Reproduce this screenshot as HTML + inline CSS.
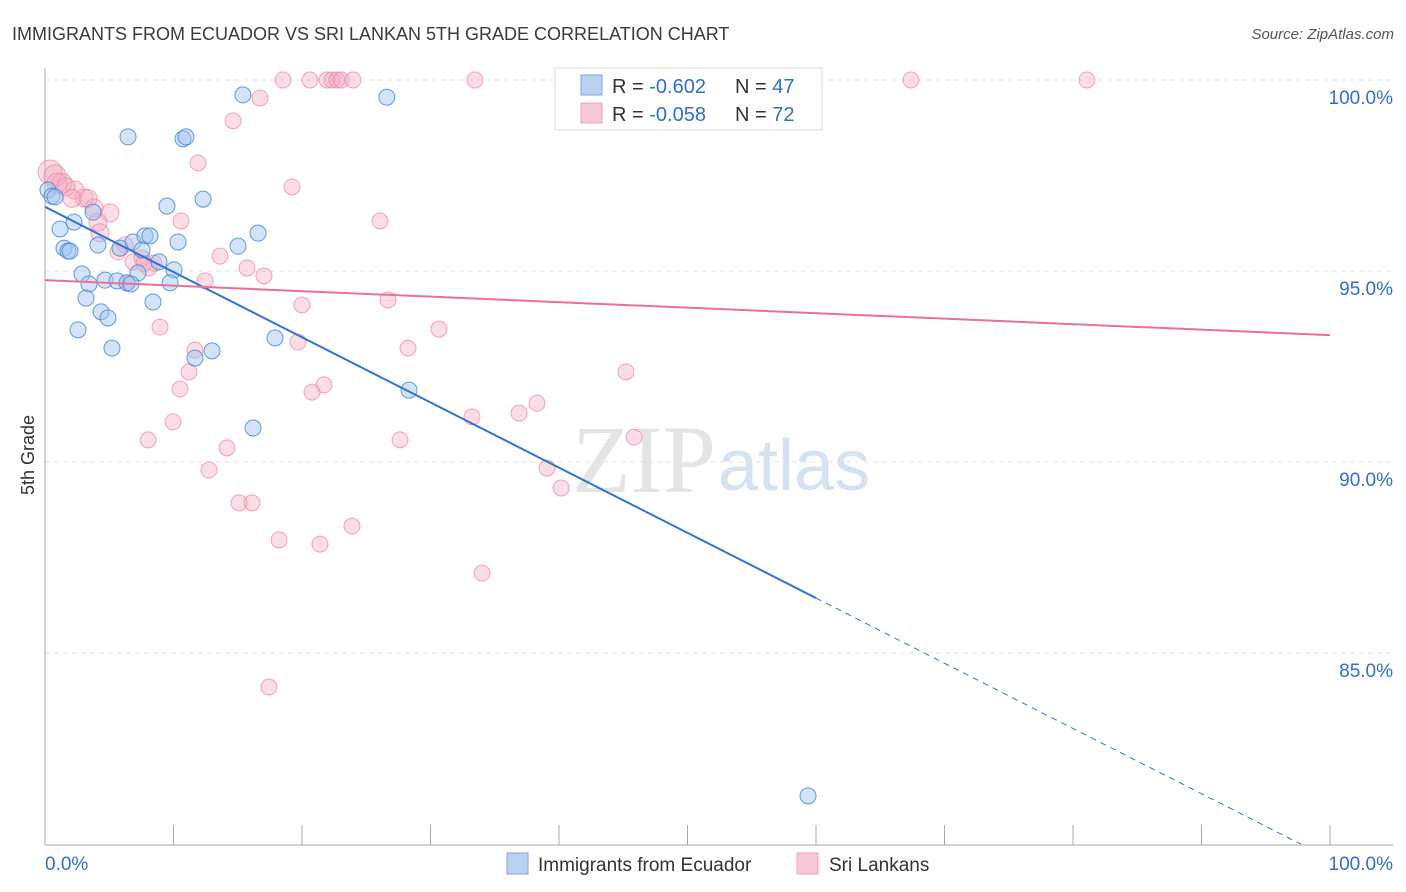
<!DOCTYPE html>
<html><head><meta charset="utf-8"><style>
body{margin:0;background:#fff;font-family:"Liberation Sans",sans-serif;}
#wrap{position:relative;width:1406px;height:892px;overflow:hidden;}
</style></head><body>
<div id="wrap">
<svg id="chart" width="1406" height="892">
<text x="12" y="40" font-size="18" fill="#3a3a3a">IMMIGRANTS FROM ECUADOR VS SRI LANKAN 5TH GRADE CORRELATION CHART</text>
<text x="1394" y="39" font-size="15" fill="#555" font-style="italic" text-anchor="end">Source: ZipAtlas.com</text>
<text x="34" y="455" font-size="18" fill="#333" transform="rotate(-90 34 455)" text-anchor="middle">5th Grade</text>
<text x="716" y="492" font-size="96" fill="#e4e4e4" text-anchor="end" font-family="Liberation Serif,serif">ZIP</text>
<text x="718" y="490" font-size="72" fill="#d5e2f3">atlas</text>
<g id="grid"></g><g id="axes"></g><g id="pts"></g><g id="lines"></g>
<g>
<rect x="555" y="68" width="267" height="62" fill="#fff" stroke="#ddd"/>
<rect x="581" y="75" width="21" height="20" fill="#b9d1f3" stroke="#7ea6e0"/>
<rect x="581" y="103" width="21" height="20" fill="#f9c8d6" stroke="#ef9fb8"/>
<text x="612" y="93" font-size="20" fill="#333">R = <tspan fill="#2f6fd1">-0.602</tspan></text>
<text x="735" y="93" font-size="20" fill="#333">N = <tspan fill="#2f6fd1">47</tspan></text>
<text x="612" y="121" font-size="20" fill="#333">R = <tspan fill="#2f6fd1">-0.058</tspan></text>
<text x="735" y="121" font-size="20" fill="#333">N = <tspan fill="#2f6fd1">72</tspan></text>
</g>
<g>
<rect x="507" y="853" width="21" height="21" fill="#b9d1f3" stroke="#7ea6e0"/>
<text x="538" y="871" font-size="19" fill="#333">Immigrants from Ecuador</text>
<rect x="797" y="853" width="21" height="21" fill="#f9c8d6" stroke="#ef9fb8"/>
<text x="829" y="871" font-size="19" fill="#333">Sri Lankans</text>
</g>
</svg></div>
<script>
const yTicks=[100,95,90,85];
const xTickLabels=["0.0%","100.0%"];
const blueX=[15.4,26.6,6.46,10.74,10.97,12.3,9.49,16.58,0.23,0.54,0.78,3.74,2.26,1.17,1.48,1.79,1.95,4.12,5.84,6.85,7.78,8.17,10.35,15.02,8.87,10.04,7.24,2.88,3.42,4.67,5.6,6.38,6.69,9.73,3.19,8.4,4.36,4.9,2.57,5.21,13.0,11.67,17.9,28.33,16.19,59.38,7.55];
const blueY=[99.61,99.55,98.51,98.46,98.51,96.88,96.7,95.99,97.12,96.96,96.94,96.54,96.28,96.1,95.6,95.52,95.52,95.68,95.6,95.76,95.92,95.92,95.76,95.65,95.24,95.03,94.95,94.92,94.66,94.76,94.74,94.69,94.66,94.69,94.29,94.19,93.93,93.77,93.46,92.98,92.91,92.72,93.25,91.88,90.89,81.26,95.55];
const pinkX=[18.52,20.62,21.95,22.33,22.72,23.04,23.97,33.46,67.39,81.09,41.48,16.73,14.63,11.91,19.22,0.39,0.78,1.32,2.33,3.04,3.81,5.06,4.12,4.28,6.23,6.85,8.48,8.09,7.55,10.58,13.62,15.72,17.04,12.45,6.38,8.95,11.67,11.21,10.51,20.0,19.69,26.69,26.07,28.25,30.66,45.21,21.71,20.78,38.29,36.89,33.23,27.63,8.02,9.96,14.16,12.76,39.07,40.16,45.84,15.1,16.11,18.21,21.4,23.89,34.01,17.43,7.7,0.93,3.35,1.63,5.68,2.1];
const pinkY=[100,100,100,100,100,100,100,100,100,100,100,99.53,98.93,97.83,97.2,97.59,97.49,97.3,97.12,96.91,96.65,96.52,96.28,96.0,95.68,95.24,95.21,95.08,95.34,96.31,95.39,95.08,94.87,94.74,94.69,93.53,92.93,92.36,91.91,94.11,93.14,94.24,96.31,92.98,93.48,92.36,92.02,91.83,91.54,91.28,91.18,90.58,90.58,91.05,90.37,89.79,89.84,89.32,90.65,88.93,88.93,87.96,87.85,88.32,87.09,84.11,95.2,97.3,96.9,97.2,95.5,96.9];
const pinkR=[8,8,8,8,8,8,8,8,8,8,8,8,8,8,8,12,11,10,9,9,9,9,9,9,8,8,8,8,8,8,8,8,8,8,8,8,8,8,8,8,8,8,8,8,8,8,8,8,8,8,8,8,8,8,8,8,8,8,8,8,8,8,8,8,8,8,8,10,9,9,8,9];
const blueLine=[96.68,79.61], pinkLine=[94.76,93.32];
const X=v=>45+v*12.85, Y=v=>80+(100-v)*38.2;
const NS="http://www.w3.org/2000/svg";
function mk(tag,attrs,parent){const e=document.createElementNS(NS,tag);for(const k in attrs)e.setAttribute(k,attrs[k]);document.getElementById(parent).appendChild(e);return e;}
yTicks.forEach(t=>{
 const l=mk('line',{x1:45,x2:1393,y1:Y(t),y2:Y(t),stroke:'#e2e2e2','stroke-dasharray':'5,4'},'grid');
 
 
 const tx=mk('text',{x:1393,y:Y(t)+24,'font-size':19,fill:'#2f6fd1','text-anchor':'end'},'grid');
 tx.textContent=t.toFixed(1)+'%';
 
 
});
const ax=mk('line',{x1:45,x2:45,y1:68,y2:845,stroke:'#aaa'},'axes');


const bx=mk('line',{x1:45,x2:1393,y1:845,y2:845,stroke:'#aaa'},'axes');


for(let i=0;i<=10;i++){const t=mk('line',{x1:X(i*10),x2:X(i*10),y1:825,y2:845,stroke:'#aaa'},'axes');
 
 }
[[0,'start',45],[100,'end',1393]].forEach((a,i)=>{const t=mk('text',{x:a[2],y:870,'font-size':19,fill:'#2f6fd1','text-anchor':a[1]},'axes');t.textContent=xTickLabels[i];
 
 });
pinkX.forEach((x,i)=>{const c=mk('circle',{cx:X(x),cy:Y(pinkY[i]),r:pinkR[i],fill:'rgba(246,170,193,0.4)',stroke:'rgba(236,130,160,0.7)','stroke-width':1},'pts');
 
 });
blueX.forEach((x,i)=>{const c=mk('circle',{cx:X(x),cy:Y(blueY[i]),r:8,fill:'rgba(160,195,240,0.45)',stroke:'rgba(60,130,220,0.8)','stroke-width':1},'pts');
 
 });
const by=x=>blueLine[0]+(blueLine[1]-blueLine[0])*x/100;
const b1=mk('line',{x1:X(0),y1:Y(by(0)),x2:X(60),y2:Y(by(60)),stroke:'#2f74d6','stroke-width':2},'lines');


const xe=Math.min(100,(80-blueLine[0])/(blueLine[1]-blueLine[0])*100);
const b2=mk('line',{x1:X(60),y1:Y(by(60)),x2:X(xe),y2:Y(by(xe)),stroke:'#2f74d6','stroke-width':1,'stroke-dasharray':'6,5'},'lines');


const p1=mk('line',{x1:X(0),y1:Y(pinkLine[0]),x2:X(100),y2:Y(pinkLine[1]),stroke:'#e8709a','stroke-width':2},'lines');


</script></body></html>
